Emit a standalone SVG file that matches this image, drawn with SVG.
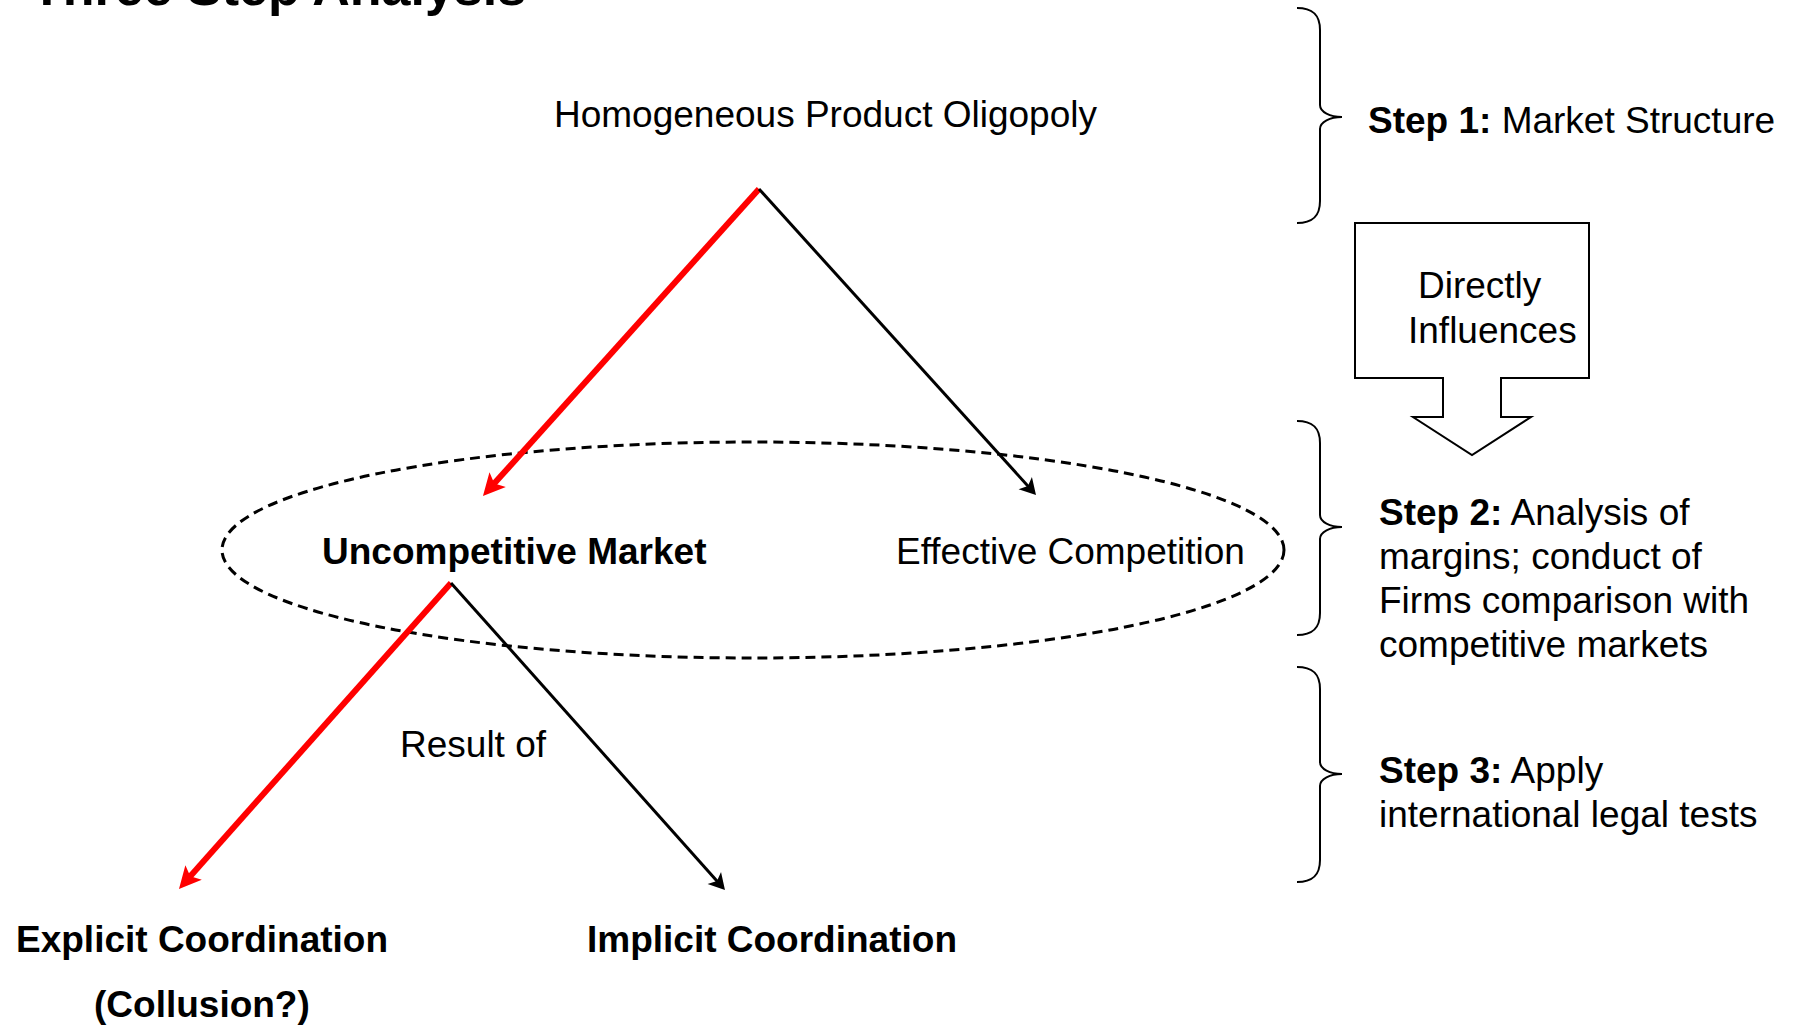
<svg xmlns="http://www.w3.org/2000/svg" width="1796" height="1028" viewBox="0 0 1796 1028">
<style>
text{font-family:"Liberation Sans",Arial,sans-serif;font-size:37px;fill:#000}
.b{font-weight:bold}
.brace{fill:none;stroke:#000;stroke-width:2}
.red{stroke:#ff0000;stroke-width:6;fill:none}
.blk{stroke:#000;stroke-width:3;fill:none}
</style>
<defs>
<marker id="ahr" markerUnits="userSpaceOnUse" markerWidth="24" markerHeight="22" refX="14" refY="11" orient="auto" overflow="visible">
<path d="M0,0 L22,11 L0,22 L5,11 z" fill="#ff0000"/>
</marker>
<marker id="ahk" markerUnits="userSpaceOnUse" markerWidth="18" markerHeight="18" refX="12" refY="9" orient="auto" overflow="visible">
<path d="M0,0 L16,9 L0,18 L4,9 z" fill="#000"/>
</marker>
</defs>
<rect width="1796" height="1028" fill="#fff"/>
<text id="title" class="b" x="31" y="5" style="font-size:52px">Three Step Analysis</text>

<g id="scope-ellipse">
<ellipse cx="753" cy="550" rx="531" ry="108" fill="none" stroke="#000" stroke-width="3" stroke-dasharray="10,6"/>
</g>

<g id="connectors">
<line class="red" x1="759" y1="189" x2="488.3" y2="490.1" marker-end="url(#ahr)"/>
<line class="blk" x1="759" y1="189" x2="1033.3" y2="492" marker-end="url(#ahk)"/>
<line class="red" x1="451" y1="583" x2="184.3" y2="883" marker-end="url(#ahr)"/>
<line class="blk" x1="451" y1="583" x2="722.3" y2="887" marker-end="url(#ahk)"/>
</g>

<g id="node-homogeneous"><text x="554" y="127">Homogeneous Product Oligopoly</text></g>
<g id="node-uncompetitive"><text class="b" x="322" y="564">Uncompetitive Market</text></g>
<g id="node-effective"><text x="896" y="564">Effective Competition</text></g>
<g id="label-result"><text x="400" y="757">Result of</text></g>
<g id="node-explicit"><text class="b" x="16" y="952">Explicit Coordination</text><text class="b" x="94" y="1017">(Collusion?)</text></g>
<g id="node-implicit"><text class="b" x="587" y="952">Implicit Coordination</text></g>

<g id="brace-1"><path class="brace" d="M1297,8 C1312,8 1320,14 1320,30 L1320,105 C1320,112 1330,117 1342,117 C1330,117 1320,122 1320,129 L1320,201 C1320,217 1312,223 1297,223"/></g>
<g id="brace-2"><path class="brace" d="M1297,421 C1312,421 1320,427 1320,443 L1320,515 C1320,522 1330,527 1342,527 C1330,527 1320,532 1320,539 L1320,613 C1320,629 1312,635 1297,635"/></g>
<g id="brace-3"><path class="brace" d="M1297,667 C1312,667 1320,673 1320,689 L1320,762 C1320,769 1330,774 1342,774 C1330,774 1320,779 1320,786 L1320,860 C1320,876 1312,882 1297,882"/></g>

<g id="step-1"><text x="1368" y="133"><tspan class="b">Step 1:</tspan> Market Structure</text></g>

<g id="influence-arrow">
<polygon points="1355,223 1589,223 1589,378 1501,378 1501,417 1531,417 1472,455 1413,417 1443,417 1443,378 1355,378" fill="#fff" stroke="#000" stroke-width="2"/>
<text x="1418" y="298">Directly</text>
<text x="1408" y="343">Influences</text>
</g>

<g id="step-2">
<text x="1379" y="525"><tspan class="b">Step 2:</tspan> Analysis of</text>
<text x="1379" y="569">margins; conduct of</text>
<text x="1379" y="613">Firms comparison with</text>
<text x="1379" y="657">competitive markets</text>
</g>

<g id="step-3">
<text x="1379" y="783"><tspan class="b">Step 3:</tspan> Apply</text>
<text x="1379" y="827">international legal tests</text>
</g>
</svg>
